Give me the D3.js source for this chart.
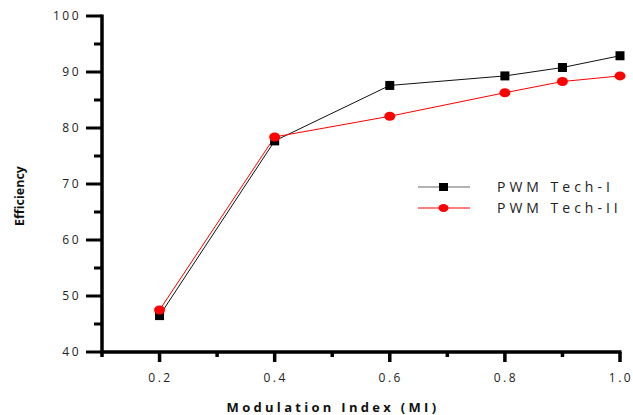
<!DOCTYPE html>
<html lang="en">
<head>
<meta charset="UTF-8">
<title>Efficiency vs Modulation Index</title>
<script src="https://cdn.jsdelivr.net/npm/d3@7"></script>
<style>
body { margin: 0; background: #fff; }
text { font-family: "Open Sans", sans-serif; fill: #222; }
.tick-label { font-size: 12px; letter-spacing: 2.5px; }
.axis-title { font-weight: bold; font-size: 13px; fill: #111; }
.legend-text { font-size: 14px; letter-spacing: 4px; }
</style>
</head>
<body>
<svg width="633" height="415"></svg>
<script>
// data
var mi = [0.2, 0.4, 0.6, 0.8, 0.9, 1.0];
var tech1 = [46.5, 77.7, 87.6, 89.3, 90.8, 92.9];
var tech2 = [47.5, 78.4, 82.1, 86.3, 88.3, 89.3];
var xTicks = [0.2, 0.4, 0.6, 0.8, 1.0];
var xMinor = [0.1, 0.3, 0.5, 0.7, 0.9];
var yTicks = [40, 50, 60, 70, 80, 90, 100];
var yMinor = [45, 55, 65, 75, 85, 95];
var seriesNames = ["PWM Tech-I", "PWM Tech-II"];

var svg = d3.select("svg");
var x = d3.scaleLinear().domain([0.1, 1.0]).range([102, 620]);
var y = d3.scaleLinear().domain([40, 100]).range([352, 16]);

// axes lines
svg.append("line").attr("x1", x(0.1)).attr("x2", x(0.1))
    .attr("y1", y(100) - 1.5).attr("y2", y(40) + 1.5)
    .attr("stroke", "#000").attr("stroke-width", 3.5);
svg.append("line").attr("x1", x(0.1) - 1.5).attr("x2", x(1.0) + 1.5)
    .attr("y1", y(40)).attr("y2", y(40))
    .attr("stroke", "#000").attr("stroke-width", 3.5);

// y ticks
svg.selectAll(".ymaj").data(yTicks).enter().append("line")
    .attr("x1", 86).attr("x2", 102)
    .attr("y1", function(d) { return y(d); }).attr("y2", function(d) { return y(d); })
    .attr("stroke", "#000").attr("stroke-width", 3);
svg.selectAll(".ymin").data(yMinor).enter().append("line")
    .attr("x1", 94).attr("x2", 102)
    .attr("y1", function(d) { return y(d); }).attr("y2", function(d) { return y(d); })
    .attr("stroke", "#000").attr("stroke-width", 3);
svg.selectAll(".ylab").data(yTicks).enter().append("text")
    .attr("class", "tick-label")
    .attr("x", 81).attr("y", function(d) { return y(d); })
    .attr("dy", "0.35em").attr("text-anchor", "end")
    .text(function(d) { return d; });

// x ticks
svg.selectAll(".xmaj").data(xTicks).enter().append("line")
    .attr("x1", function(d) { return x(d); }).attr("x2", function(d) { return x(d); })
    .attr("y1", 352).attr("y2", 362)
    .attr("stroke", "#000").attr("stroke-width", 3.5);
svg.selectAll(".xmin").data(xMinor).enter().append("line")
    .attr("x1", function(d) { return x(d); }).attr("x2", function(d) { return x(d); })
    .attr("y1", 352).attr("y2", 357)
    .attr("stroke", "#000").attr("stroke-width", 3.5);
svg.selectAll(".xlab").data(xTicks).enter().append("text")
    .attr("class", "tick-label")
    .attr("x", function(d) { return x(d) + 1; }).attr("y", 382)
    .attr("text-anchor", "middle")
    .text(function(d) { return d.toFixed(1); });

// titles
svg.append("text").attr("class", "axis-title")
    .attr("transform", "translate(24,196) rotate(-90)")
    .attr("text-anchor", "middle").style("font-size", "12.5px")
    .text("Efficiency");
svg.append("text").attr("class", "axis-title")
    .attr("x", 333).attr("y", 412).attr("text-anchor", "middle")
    .style("letter-spacing", "3.3px")
    .text("Modulation Index (MI)");

var line = d3.line()
    .x(function(d, i) { return x(mi[i]); })
    .y(function(d) { return y(d); });

// series I
svg.append("path").datum(tech1).attr("d", line)
    .attr("fill", "none").attr("stroke", "#111").attr("stroke-width", 1);
// series II
svg.append("path").datum(tech2).attr("d", line)
    .attr("fill", "none").attr("stroke", "#ff0000").attr("stroke-width", 1);

svg.selectAll(".m1").data(tech1).enter().append("rect")
    .attr("x", function(d, i) { return x(mi[i]) - 4.5; })
    .attr("y", function(d) { return y(d) - 4.5; })
    .attr("width", 9).attr("height", 9).attr("fill", "#000");
svg.selectAll(".m2").data(tech2).enter().append("ellipse")
    .attr("cx", function(d, i) { return x(mi[i]); })
    .attr("cy", function(d) { return y(d); })
    .attr("rx", 5.5).attr("ry", 4.5).attr("fill", "#ff0000");

// legend
var leg = svg.append("g");
var legY = [187, 208];
leg.append("line").attr("x1", 418).attr("x2", 470).attr("y1", legY[0]).attr("y2", legY[0])
    .attr("stroke", "#666").attr("stroke-width", 1);
leg.append("rect").attr("x", 439).attr("y", legY[0] - 4).attr("width", 9).attr("height", 8)
    .attr("fill", "#000");
leg.append("line").attr("x1", 418).attr("x2", 470).attr("y1", legY[1]).attr("y2", legY[1])
    .attr("stroke", "#ff0000").attr("stroke-width", 1);
leg.append("ellipse").attr("cx", 443.5).attr("cy", legY[1]).attr("rx", 5).attr("ry", 4)
    .attr("fill", "#ff0000");
leg.selectAll(".lt").data(seriesNames).enter().append("text")
    .attr("class", "legend-text")
    .attr("x", 497).attr("y", function(d, i) { return legY[i]; })
    .attr("dy", "0.35em")
    .text(function(d) { return d; });
</script>
</body>
</html>
